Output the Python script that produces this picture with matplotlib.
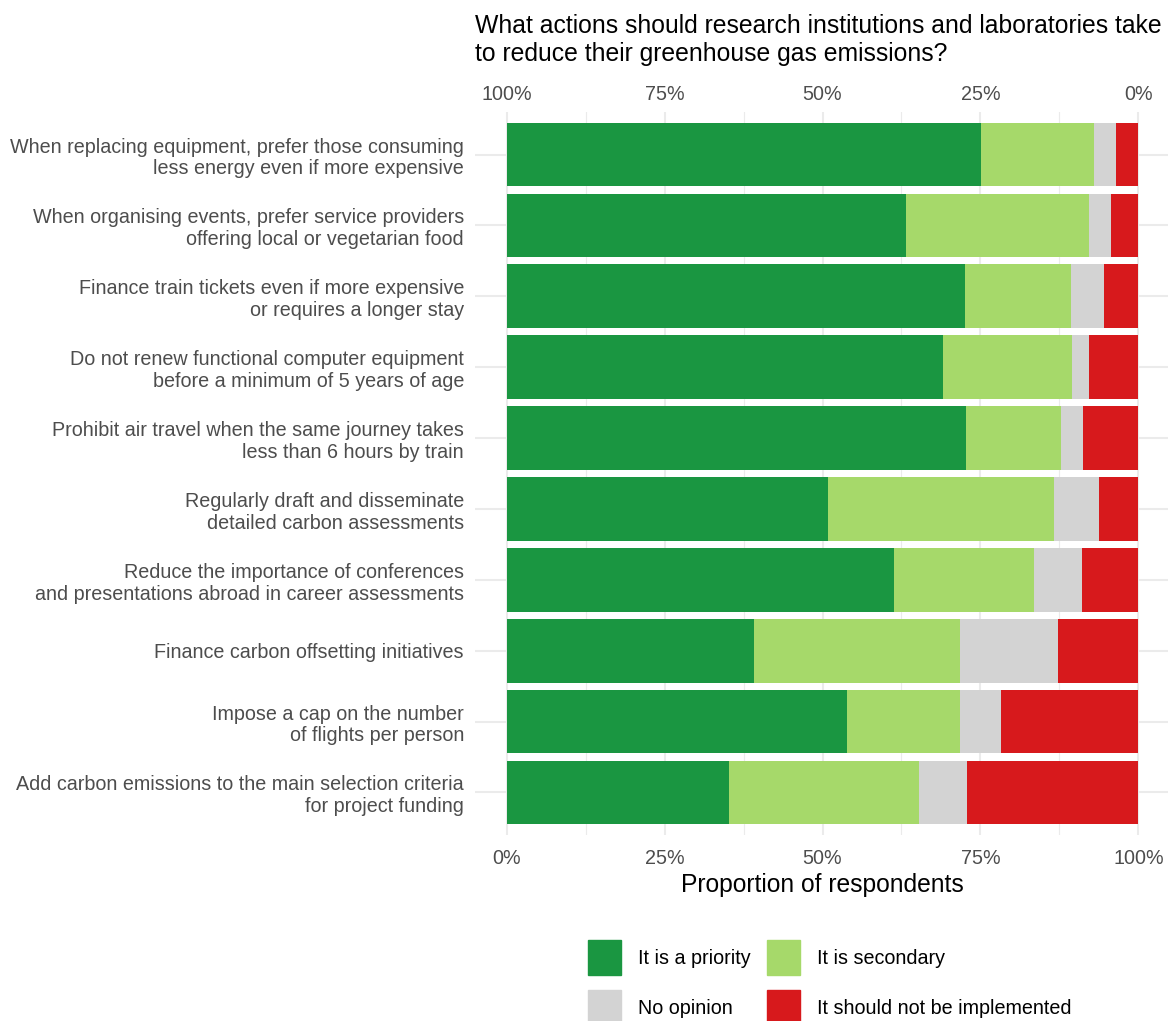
"""
Stacked horizontal bars: opinions on lab actions to reduce greenhouse gas emissions.
"""
import matplotlib
matplotlib.use("Agg")
import matplotlib.pyplot as plt
import matplotlib.patches as mpatches
from matplotlib.ticker import FixedLocator, FuncFormatter

plt.rcParams["font.family"] = ["Liberation Sans", "DejaVu Sans"]

actions = [
    "When replacing equipment, prefer those consuming\nless energy even if more expensive",
    "When organising events, prefer service providers\noffering local or vegetarian food",
    "Finance train tickets even if more expensive\nor requires a longer stay",
    "Do not renew functional computer equipment\nbefore a minimum of 5 years of age",
    "Prohibit air travel when the same journey takes\nless than 6 hours by train",
    "Regularly draft and disseminate\ndetailed carbon assessments",
    "Reduce the importance of conferences\nand presentations abroad in career assessments",
    "Finance carbon offsetting initiatives",
    "Impose a cap on the number\nof flights per person",
    "Add carbon emissions to the main selection criteria\nfor project funding",
]

# proportions of respondents (%)
priority = [75.1, 63.2, 72.6, 69.1, 72.7, 50.9, 61.3, 39.1, 53.9, 35.2]
secondary = [17.9, 29.0, 16.8, 20.4, 15.1, 35.8, 22.1, 32.7, 17.9, 30.1]
no_opinion = [3.5, 3.4, 5.1, 2.7, 3.5, 7.0, 7.6, 15.5, 6.5, 7.6]
not_implemented = [3.5, 4.4, 5.5, 7.8, 8.7, 6.3, 9.0, 12.7, 21.7, 27.1]

series = [
    ("It is a priority", priority, "#1a9641"),
    ("It is secondary", secondary, "#a6d96a"),
    ("No opinion", no_opinion, "#d3d3d3"),
    ("It should not be implemented", not_implemented, "#d7191c"),
]

W, H = 1168, 1021
fig = plt.figure(figsize=(W / 100, H / 100), dpi=100)
ax = fig.add_axes([475 / W, 1 - 835 / H, (1170 - 475) / W, (835 - 112) / H])

ypos = list(range(len(actions)))
left = [0.0] * len(actions)
for name, vals, col in series:
    frac = [v / 100 for v in vals]
    ax.barh(ypos, frac, left=left, height=0.9, color=col, label=name, zorder=2)
    left = [a + b for a, b in zip(left, frac)]

ax.set_xlim(-0.05, 1.05)
ax.set_ylim(len(actions) - 1 + 0.6, -0.6)
ax.set_yticks(ypos)
ax.set_yticklabels(actions, linespacing=1.18)

pct = FuncFormatter(lambda v, _: f"{v * 100:.0f}%")
ax.xaxis.set_major_locator(FixedLocator([0, 0.25, 0.5, 0.75, 1.0]))
ax.xaxis.set_minor_locator(FixedLocator([0.125, 0.375, 0.625, 0.875]))
ax.xaxis.set_major_formatter(pct)

ax.grid(True, which="major", color="#ebebeb", lw=1.5, zorder=0)
ax.grid(True, which="minor", axis="x", color="#ebebeb", lw=0.8, zorder=0)
ax.set_axisbelow(True)
for s in ax.spines.values():
    s.set_visible(False)
ax.tick_params(axis="both", which="both", length=0, labelsize=14.2,
               labelcolor="#4d4d4d")
ax.tick_params(axis="y", pad=8)
ax.tick_params(axis="x", pad=10)

# top axis: remaining share counted from the right
top = ax.secondary_xaxis("top", functions=(lambda x: 1 - x, lambda x: 1 - x))
top.xaxis.set_major_locator(FixedLocator([0, 0.25, 0.5, 0.75, 1.0]))
top.xaxis.set_major_formatter(pct)
top.tick_params(length=0, labelsize=14.2, labelcolor="#4d4d4d", pad=5.6)
for s in top.spines.values():
    s.set_visible(False)

ax.set_xlabel("Proportion of respondents", fontsize=17.7, color="black",
              labelpad=4)

fig.text(475 / W, 1 - 14 / H,
         "What actions should research institutions and laboratories take\n"
         "to reduce their greenhouse gas emissions?",
         ha="left", va="top", fontsize=17.8, color="black", linespacing=1.22)

handles = [mpatches.Patch(color=c, label=n) for n, _, c in series]
order = [0, 2, 1, 3]
fig.legend([handles[i] for i in order], [series[i][0] for i in order],
           ncol=2, loc="upper left", bbox_to_anchor=(588 / W, 1 - 940 / H),
           frameon=False, fontsize=14.2, borderpad=0, borderaxespad=0,
           handlelength=1.68, handleheight=2.36, handletextpad=0.86,
           columnspacing=0.81, labelspacing=0.76)

fig.savefig("out.png", dpi=100)
